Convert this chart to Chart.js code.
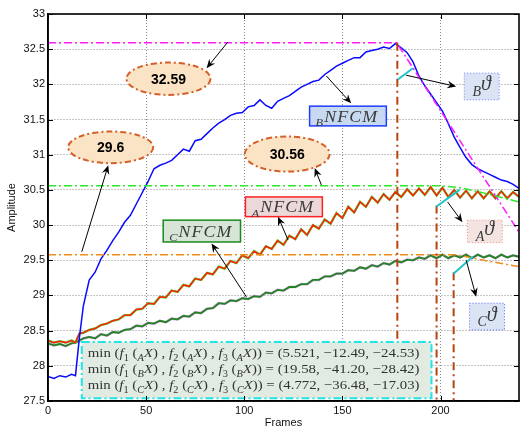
<!DOCTYPE html>
<html>
<head>
<meta charset="utf-8">
<script src="https://cdn.jsdelivr.net/npm/chart.js@4.4.1/dist/chart.umd.min.js"></script>
<style>
body { margin: 0; background: #fff; }
#wrap { width: 520px; height: 430px; }
</style>
</head>
<body>
<div id="wrap"><canvas id="grafico" width="520" height="430"></canvas></div>
<script>
// frames do eixo x
const frames = [
  0, 3, 6, 9, 12, 14, 16, 18, 21, 24,
  27, 30, 33, 36, 39, 42, 45, 48, 51, 54,
  57, 60, 63, 66, 69, 72, 75, 78, 81, 84,
  87, 90, 93, 96, 99, 102, 105, 108, 111, 114,
  117, 120, 123, 126, 129, 132, 135, 138, 141, 144,
  147, 150, 153, 156, 159, 162, 165, 168, 171, 174,
  177, 180, 183, 186, 189, 192, 195, 198, 201, 204,
  207, 210, 213, 216, 219, 222, 225, 228, 231, 234,
  237, 240
];

// serie B (azul)
const serieB = [
  27.85, 27.82, 27.86, 27.84, 27.88, 27.86, 28.40, 28.85, 29.22, 29.33,
  29.52, 29.64, 29.78, 29.90, 30.04, 30.14, 30.30, 30.46, 30.62, 30.80,
  30.85, 30.88, 30.92, 31.00, 31.08, 31.05, 31.20, 31.22, 31.30, 31.38,
  31.45, 31.50, 31.56, 31.59, 31.60, 31.68, 31.70, 31.78, 31.70, 31.66,
  31.76, 31.80, 31.84, 31.90, 31.96, 32.00, 32.04, 32.06, 32.14, 32.20,
  32.26, 32.30, 32.34, 32.38, 32.38, 32.46, 32.48, 32.50, 32.53, 32.51,
  32.58, 32.52, 32.45, 32.32, 32.12, 31.98, 31.86, 31.74, 31.62, 31.44,
  31.25, 31.10, 30.96, 30.86, 30.80, 30.76, 30.72, 30.68, 30.64, 30.62,
  30.58, 30.52
];

// serie A (vermelha)
const serieA = [
  28.36, 28.33, 28.35, 28.33, 28.36, 28.33, 28.46, 28.47, 28.51, 28.53,
  28.58, 28.60, 28.64, 28.66, 28.72, 28.72, 28.80, 28.81, 28.89, 28.88,
  28.98, 28.97, 29.07, 29.05, 29.15, 29.13, 29.24, 29.22, 29.32, 29.30,
  29.41, 29.38, 29.49, 29.46, 29.57, 29.53, 29.63, 29.58, 29.70, 29.66,
  29.78, 29.72, 29.85, 29.80, 29.94, 29.86, 30.00, 29.95, 30.08, 30.02,
  30.17, 30.10, 30.26, 30.18, 30.33, 30.26, 30.40, 30.32, 30.44, 30.36,
  30.47, 30.40, 30.51, 30.42, 30.52, 30.43, 30.54, 30.42, 30.53, 30.40,
  30.50, 30.39, 30.49, 30.38, 30.48, 30.38, 30.48, 30.38, 30.48, 30.38,
  30.47, 30.40
];

// serie C (verde escuro)
const serieC = [
  28.32, 28.29, 28.31, 28.28, 28.32, 28.33, 28.36, 28.39, 28.41, 28.39,
  28.45, 28.43, 28.48, 28.47, 28.51, 28.52, 28.57, 28.56, 28.61, 28.60,
  28.64, 28.62, 28.67, 28.66, 28.71, 28.70, 28.76, 28.75, 28.81, 28.82,
  28.89, 28.88, 28.93, 28.92, 28.96, 28.95, 28.99, 28.98, 29.04, 29.03,
  29.08, 29.07, 29.12, 29.12, 29.16, 29.16, 29.22, 29.22, 29.27, 29.27,
  29.31, 29.31, 29.36, 29.35, 29.40, 29.38, 29.43, 29.41, 29.46, 29.44,
  29.49, 29.47, 29.51, 29.50, 29.54, 29.52, 29.57, 29.53, 29.58, 29.53,
  29.57, 29.54, 29.58, 29.53, 29.58, 29.54, 29.57, 29.53, 29.58, 29.54,
  29.57, 29.55
];

// textos
const rotulosPico = ['32.59', '29.6', '30.56'];
const rotulosNFCM = ['B', 'A', 'C'];
const rotulosTheta = ['B', 'A', 'C'];
const minSub = ['A', 'B', 'C'];
const minValores = ['5.521, \u221212.49, \u221224.53', '19.58, \u221241.20, \u221228.42', '4.772, \u221236.48, \u221217.03'];

// anotacoes (coordenadas em frames / amplitude)
const linhasRef = [
  { pts: [[0, 32.59], [177.7, 32.59], [240, 29.9]], cor: '#ff1aff' },
  { pts: [[0, 30.56], [200, 30.56], [210, 30.53], [220, 30.47], [240, 30.33]], cor: '#2ee82e' },
  { pts: [[0, 29.58], [208, 29.58], [220, 29.51], [240, 29.41]], cor: '#f28c1c' }
];
const verticais = [[178, 32.59], [198, 30.28], [206.7, 29.33]];
const tangentes = [
  [[178.3, 32.07], [185.9, 32.23]],
  [[197.8, 30.26], [209.7, 30.50]],
  [[206.6, 29.31], [216.4, 29.55]]
];
const setas = [
  [[91.6, 32.60], [80.8, 32.23]],
  [[17.2, 29.62], [30.7, 30.85]],
  [[139.3, 30.57], [135.9, 30.81]],
  [[141.8, 32.12], [154.5, 31.73]],
  [[182.5, 32.13], [208, 31.97]],
  [[122.3, 29.79], [117.2, 30.12]],
  [[101.1, 28.98], [83.3, 29.74]],
  [[203.6, 30.33], [211.2, 30.04]],
  [[213.1, 29.50], [218.2, 28.98]]
];
const elipses = [[40.0, 82.8, 32.31, 31.85], [10.3, 53.6, 31.33, 30.88], [100.3, 143.5, 31.26, 30.76]];
const caixasNFCM = [
  { r: [133.3, 172.4, 31.69, 31.41], fundo: '#c6d9f1', borda: '#1f3dff' },
  { r: [100.6, 139.8, 30.40, 30.12], fundo: '#ecd8d9', borda: '#ff2020' },
  { r: [58.7, 98.1, 30.07, 29.76], fundo: '#d7e5d7', borda: '#1b8a1b' }
];
const caixasTheta = [
  { r: [212.1, 229.9, 32.16, 31.78], fundo: '#dae4f5', borda: '#6f7cff' },
  { r: [213.7, 231.5, 30.07, 29.75], fundo: '#f3e3e1', borda: '#f38a8a' },
  { r: [214.8, 232.6, 28.89, 28.51], fundo: '#dae4f5', borda: '#5865ff' }
];
const caixaMin = [17.2, 195.4, 28.34, 27.54];

const SERIF = '"Liberation Serif", "DejaVu Serif", serif';
const SANS = '"Liberation Sans", Arial, sans-serif';

function pontos(serie) {
  return frames.map((f, i) => ({ x: f, y: serie[i] }));
}

function fonteRun(tipo, tam) {
  const it = tipo.indexOf('i') >= 0 ? 'italic ' : '';
  const t = (tipo == 's' || tipo == 'si') ? tam * 0.7 : tam;
  return it + t + 'px ' + SERIF;
}

function medeRuns(ctx, runs, tam, espaco) {
  ctx.save();
  ctx.letterSpacing = espaco || '0px';
  let total = 0;
  runs.forEach(r => { ctx.font = fonteRun(r[1], tam); total += ctx.measureText(r[0]).width; });
  ctx.restore();
  return total;
}

// escreve pedacos de texto (normal, italico, subscrito)
function escreveRuns(ctx, runs, x, y, tam, larguraAlvo, espaco) {
  const total = medeRuns(ctx, runs, tam, espaco);
  ctx.save();
  ctx.letterSpacing = espaco || '0px';
  ctx.translate(x, y);
  if (larguraAlvo) ctx.scale(larguraAlvo / total, 1);
  let cx = 0;
  runs.forEach(r => {
    ctx.font = fonteRun(r[1], tam);
    const dy = (r[1] == 's' || r[1] == 'si') ? tam * 0.28 : 0;
    ctx.fillText(r[0], cx, dy);
    cx += ctx.measureText(r[0]).width;
  });
  ctx.restore();
}

function seta(ctx, x1, y1, x2, y2) {
  const ang = Math.atan2(y2 - y1, x2 - x1);
  const L = 9, W = 3.8;
  ctx.beginPath();
  ctx.moveTo(x1, y1);
  ctx.lineTo(x2 - Math.cos(ang) * 5, y2 - Math.sin(ang) * 5);
  ctx.stroke();
  ctx.beginPath();
  ctx.moveTo(x2, y2);
  ctx.lineTo(x2 - L * Math.cos(ang) + W * Math.sin(ang), y2 - L * Math.sin(ang) - W * Math.cos(ang));
  ctx.lineTo(x2 - 6 * Math.cos(ang), y2 - 6 * Math.sin(ang));
  ctx.lineTo(x2 - L * Math.cos(ang) - W * Math.sin(ang), y2 - L * Math.sin(ang) + W * Math.cos(ang));
  ctx.closePath();
  ctx.fill();
}

const anotacoes = {
  id: 'anotacoes',
  afterDatasetsDraw(chart) {
    const ctx = chart.ctx, area = chart.chartArea;
    const X = v => chart.scales.x.getPixelForValue(v);
    const Y = v => chart.scales.y.getPixelForValue(v);
    ctx.save();
    ctx.beginPath();
    ctx.rect(area.left, area.top, area.right - area.left, area.bottom - area.top);
    ctx.clip();

    // linhas tracejadas de referencia
    ctx.lineWidth = 1.5;
    ctx.setLineDash([8, 3, 2, 3]);
    linhasRef.forEach(l => {
      ctx.strokeStyle = l.cor;
      ctx.beginPath();
      l.pts.forEach((p, i) => i == 0 ? ctx.moveTo(X(p[0]), Y(p[1])) : ctx.lineTo(X(p[0]), Y(p[1])));
      ctx.stroke();
    });

    // verticais
    ctx.strokeStyle = '#b5440e';
    ctx.lineWidth = 2;
    ctx.setLineDash([8, 4, 2, 4]);
    verticais.forEach(v => {
      ctx.beginPath();
      ctx.moveTo(X(v[0]), Y(v[1]));
      ctx.lineTo(X(v[0]), area.bottom);
      ctx.stroke();
    });

    // tangentes cyan
    ctx.setLineDash([]);
    ctx.strokeStyle = '#1fc4c8';
    ctx.lineWidth = 2;
    tangentes.forEach(t => {
      ctx.beginPath();
      ctx.moveTo(X(t[0][0]), Y(t[0][1]));
      ctx.lineTo(X(t[1][0]), Y(t[1][1]));
      ctx.stroke();
    });

    // elipses com os picos
    elipses.forEach((e, i) => {
      const cx = (X(e[0]) + X(e[1])) / 2, cy = (Y(e[2]) + Y(e[3])) / 2;
      const rx = (X(e[1]) - X(e[0])) / 2, ry = (Y(e[3]) - Y(e[2])) / 2;
      ctx.beginPath();
      ctx.ellipse(cx, cy, rx, ry, 0, 0, Math.PI * 2);
      ctx.fillStyle = '#fbe4c6';
      ctx.fill();
      ctx.setLineDash([6, 3, 2, 3]);
      ctx.strokeStyle = '#d65f27';
      ctx.lineWidth = 2;
      ctx.stroke();
      ctx.setLineDash([]);
      ctx.fillStyle = '#000';
      ctx.font = 'bold 14px ' + SANS;
      ctx.textAlign = 'center';
      ctx.textBaseline = 'middle';
      ctx.fillText(rotulosPico[i], cx, cy + 1);
    });

    // caixas NFCM
    ctx.textAlign = 'left';
    ctx.textBaseline = 'alphabetic';
    caixasNFCM.forEach((c, i) => {
      const x1 = X(c.r[0]), x2 = X(c.r[1]), y1 = Y(c.r[2]), y2 = Y(c.r[3]);
      ctx.fillStyle = c.fundo;
      ctx.fillRect(x1, y1, x2 - x1, y2 - y1);
      ctx.strokeStyle = c.borda;
      ctx.lineWidth = 1.5;
      ctx.setLineDash([]);
      ctx.strokeRect(x1, y1, x2 - x1, y2 - y1);
      const runs = [[rotulosNFCM[i], 'si'], ['NFCM', 'i']];
      ctx.fillStyle = '#3a3a3a';
      escreveRuns(ctx, runs, x1 + 6, (y1 + y2) / 2 + 5.5, 16, x2 - x1 - 14, '1px');
    });

    // caixas theta
    caixasTheta.forEach((c, i) => {
      const x1 = X(c.r[0]), x2 = X(c.r[1]), y1 = Y(c.r[2]), y2 = Y(c.r[3]);
      ctx.fillStyle = c.fundo;
      ctx.fillRect(x1, y1, x2 - x1, y2 - y1);
      ctx.strokeStyle = c.borda;
      ctx.lineWidth = 1;
      ctx.setLineDash([1, 2]);
      ctx.strokeRect(x1, y1, x2 - x1, y2 - y1);
      ctx.setLineDash([]);
      const runs = [[rotulosTheta[i], 'si'], ['\u03D1', 'i']];
      const w = medeRuns(ctx, runs, 20);
      ctx.fillStyle = '#3a3a3a';
      escreveRuns(ctx, runs, (x1 + x2) / 2 - w / 2, (y1 + y2) / 2 + 4, 20);
    });

    // caixa com os minimos
    {
      const x1 = X(caixaMin[0]), x2 = X(caixaMin[1]), y1 = Y(caixaMin[2]), y2 = Y(caixaMin[3]);
      ctx.fillStyle = '#e2ebe2';
      ctx.fillRect(x1, y1, x2 - x1, y2 - y1);
      ctx.strokeStyle = '#22e4e4';
      ctx.lineWidth = 2;
      ctx.setLineDash([8, 3, 2, 3]);
      ctx.strokeRect(x1, y1, x2 - x1, y2 - y1);
      ctx.setLineDash([]);
      ctx.fillStyle = '#333';
      minSub.forEach((s, i) => {
        const runs = [['min', 'n'], [' (', 'n'], ['f', 'i'], ['1', 's'], [' (', 'n'], [s, 'si'], ['X', 'i'], [') , ', 'n'],
          ['f', 'i'], ['2', 's'], [' (', 'n'], [s, 'si'], ['X', 'i'], [') , ', 'n'],
          ['f', 'i'], ['3', 's'], [' (', 'n'], [s, 'si'], ['X', 'i'], ['))', 'n'], [' = (' + minValores[i] + ')', 'n']];
        escreveRuns(ctx, runs, x1 + 6, y1 + 15 + i * 16, 13.5, x2 - x1 - 18);
      });
    }

    // setas
    ctx.strokeStyle = '#000';
    ctx.fillStyle = '#000';
    ctx.lineWidth = 1;
    setas.forEach(s => seta(ctx, X(s[0][0]), Y(s[0][1]), X(s[1][0]), Y(s[1][1])));

    ctx.restore();
  },
  afterDraw(chart) {
    // moldura e ticks para dentro, estilo matlab
    const ctx = chart.ctx, a = chart.chartArea;
    const sx = chart.scales.x, sy = chart.scales.y;
    ctx.save();
    ctx.strokeStyle = '#000';
    ctx.lineWidth = 1;
    sx.ticks.forEach(t => {
      const px = Math.round(sx.getPixelForValue(t.value)) + 0.5;
      ctx.beginPath();
      ctx.moveTo(px, a.bottom); ctx.lineTo(px, a.bottom - 5);
      ctx.moveTo(px, a.top); ctx.lineTo(px, a.top + 5);
      ctx.stroke();
    });
    sy.ticks.forEach(t => {
      const py = Math.round(sy.getPixelForValue(t.value)) + 0.5;
      ctx.beginPath();
      ctx.moveTo(a.left, py); ctx.lineTo(a.left + 5, py);
      ctx.moveTo(a.right, py); ctx.lineTo(a.right - 5, py);
      ctx.stroke();
    });
    ctx.lineWidth = 1.6;
    ctx.strokeRect(a.left, a.top, a.right - a.left, a.bottom - a.top);
    ctx.restore();
  }
};

const grafico = new Chart(document.getElementById('grafico'), {
  type: 'line',
  data: {
    datasets: [
      { label: 'B', data: pontos(serieB), borderColor: '#0a0aff', borderWidth: 1.5, pointRadius: 0, order: 0 },
      { label: 'A', data: pontos(serieA), borderColor: '#ff2200', borderWidth: 1.5, pointRadius: 0, order: 1 },
      { label: 'A contorno', data: pontos(serieA), borderColor: '#4cd84c', borderWidth: 2.4, pointRadius: 0, order: 2 },
      { label: 'C', data: pontos(serieC), borderColor: '#1f851f', borderWidth: 1.8, pointRadius: 0, order: 3 },
      { label: 'C contorno', data: pontos(serieC), borderColor: '#d9a0ea', borderWidth: 2.6, pointRadius: 0, order: 4 }
    ]
  },
  options: {
    responsive: false,
    animation: false,
    layout: { padding: { top: 14, right: 1, left: 0, bottom: 0 } },
    plugins: { legend: { display: false }, tooltip: { enabled: false } },
    elements: { line: { tension: 0 } },
    scales: {
      x: {
        type: 'linear', min: 0, max: 240,
        afterFit: s => { s.height = 29; },
        ticks: { stepSize: 50, includeBounds: false, padding: 3, color: '#111', font: { family: SANS, size: 11 } },
        grid: { color: '#8a8a8a', lineWidth: 1, drawTicks: false },
        border: { display: true, color: '#000', width: 1.5, dash: [1, 2] },
        title: { display: true, text: 'Frames', color: '#111', font: { family: SANS, size: 11 }, padding: { top: 0, bottom: 0 } }
      },
      y: {
        type: 'linear', min: 27.5, max: 33,
        afterFit: s => { s.width = 48; },
        ticks: { stepSize: 0.5, padding: 3, color: '#111', font: { family: SANS, size: 11 }, callback: v => String(v) },
        grid: { color: '#8a8a8a', lineWidth: 1, drawTicks: false },
        border: { display: true, color: '#000', width: 1.5, dash: [1, 2] },
        title: { display: true, text: 'Amplitude', color: '#111', font: { family: SANS, size: 11 }, padding: { top: 5, bottom: 0 } }
      }
    }
  },
  plugins: [anotacoes]
});
</script>
</body>
</html>
